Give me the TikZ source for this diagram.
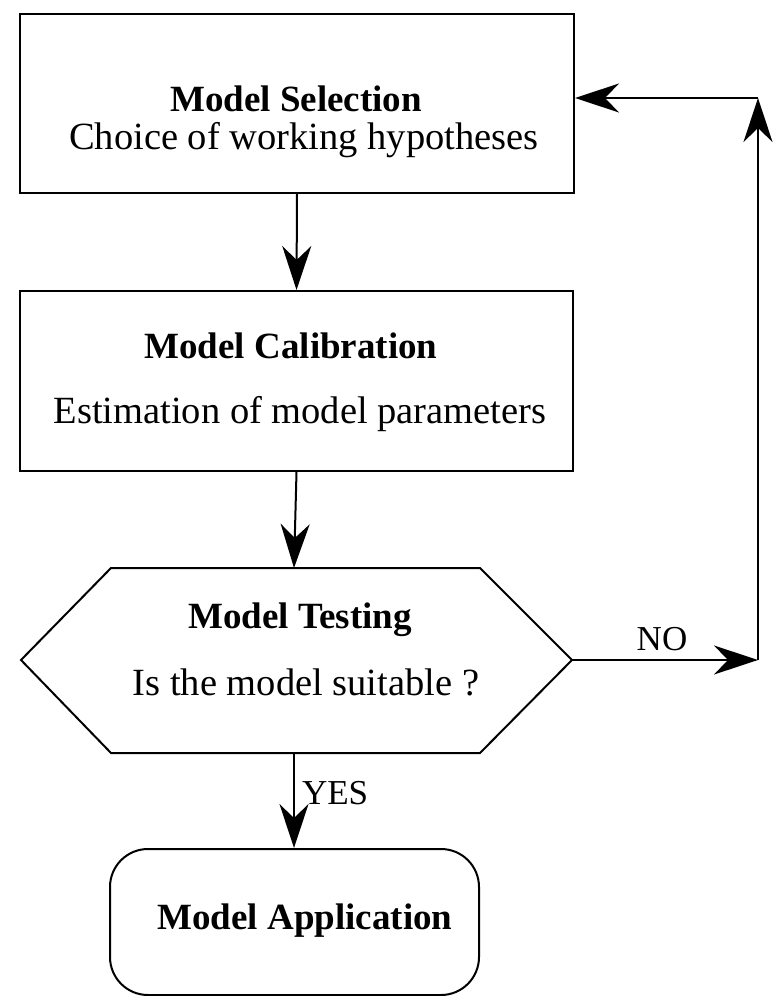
\documentclass[tikz,border=0pt]{standalone}
\usepackage{fontspec}
\setmainfont{Liberation Serif}
\usetikzlibrary{arrows.meta}
\begin{document}
\begin{tikzpicture}[x=1pt, y=-1pt, line width=2pt,
  flowarrow/.style={-{Stealth[length=44pt, width=29pt, inset=14pt]}},
  stagebox/.style={draw, rectangle, inner sep=0pt},
  headtext/.style={anchor=base, inner sep=0pt, font=\fontsize{37}{44}\selectfont\bfseries},
  bodytext/.style={anchor=base, inner sep=0pt, font=\fontsize{38.5}{46}\selectfont},
  edgetext/.style={anchor=base, inner sep=0pt, font=\fontsize{35}{42}\selectfont}]
  \useasboundingbox (0,0) rectangle (778,996);

  % stage boxes
  \node[stagebox, minimum width=554pt, minimum height=179pt] (sel) at (297,103.5) {};
  \node[stagebox, minimum width=553pt, minimum height=180pt] (cal) at (296.5,381) {};
  \node[stagebox, rounded corners=38pt, minimum width=369pt, minimum height=146pt] (app) at (294.5,922) {};

  % decision hexagon
  \coordinate (tW)  at (21,660);
  \coordinate (tNW) at (111,568);
  \coordinate (tNE) at (480,568);
  \coordinate (tE)  at (572,660);
  \coordinate (tSE) at (480,753);
  \coordinate (tSW) at (111,753);
  \coordinate (tN)  at (294,568);
  \coordinate (tS)  at (294,753);
  \draw (tW) -- (tNW) -- (tNE) -- (tE) -- (tSE) -- (tSW) -- cycle;

  % texts
  \node[headtext] (selhead) at (296,111) {Model Selection};
  \node[bodytext] (selbody) at (304,149) {Choice of working hypotheses};
  \node[headtext] (calhead) at (291,358) {Model Calibration};
  \node[bodytext] (calbody) at (300,423) {Estimation of model parameters};
  \node[headtext] (testhead) at (300,628) {Model Testing};
  \node[bodytext] (testbody) at (306,695) {Is the model suitable ?};
  \node[headtext] (apptext) at (305,929) {Model Application};

  % main flow
  \draw[flowarrow] (sel.south) -- (cal.north);
  \draw[flowarrow] (cal.south) -- (tN);
  \draw[flowarrow] (tS) -- (app.north -| tS);
  \node[edgetext, anchor=base west] (yes) at (301,804) {YES};

  % feedback loop
  \coordinate (c1) at (758,660);
  \coordinate (c2) at (758,98);
  \coordinate (selR) at (sel.east |- c2);
  \draw[flowarrow] (tE) -- (c1);
  \draw[flowarrow] (c1) -- (c2);
  \draw[flowarrow] (c2) -- (selR);
  \node[edgetext] (no) at (662,650) {NO};
\end{tikzpicture}
\end{document}
